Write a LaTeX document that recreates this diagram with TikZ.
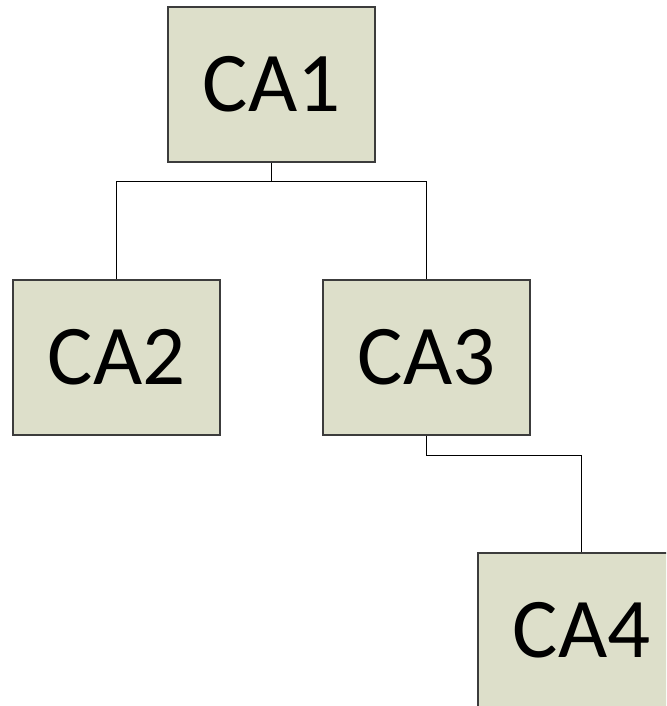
\documentclass[tikz,border=0pt]{standalone}
\usepackage{fontspec}
\setmainfont{Carlito}
\definecolor{boxfill}{HTML}{DDDFCA}
\definecolor{boxline}{HTML}{3C3C3C}
\begin{document}
\begin{tikzpicture}[x=1pt,y=-1pt,
  cabox/.style={draw=boxline,line width=1.3pt,fill=boxfill,minimum width=207pt,minimum height=155pt,inner sep=0pt,font=\fontsize{85}{90}\selectfont},
  link/.style={draw=black,line width=1pt}]
\useasboundingbox (0,0) rectangle (666,706);
\begin{scope}
\clip (0,0) rectangle (666,706);
\node[cabox] (ca1) at (271.5,84.5) {CA1};
\node[cabox] (ca2) at (116.5,357.5) {CA2};
\node[cabox] (ca3) at (426.5,357.5) {CA3};
\node[cabox] (ca4) at (581.5,630.5) {CA4};
\coordinate (j1) at (271.5,181);
\coordinate (j2) at (426.5,455);
\draw[link] (ca1.south) -- (j1);
\draw[link] (j1) -| (ca2.north);
\draw[link] (j1) -| (ca3.north);
\draw[link] (ca3.south) -- (j2) -| (ca4.north);
\end{scope}
\end{tikzpicture}
\end{document}
